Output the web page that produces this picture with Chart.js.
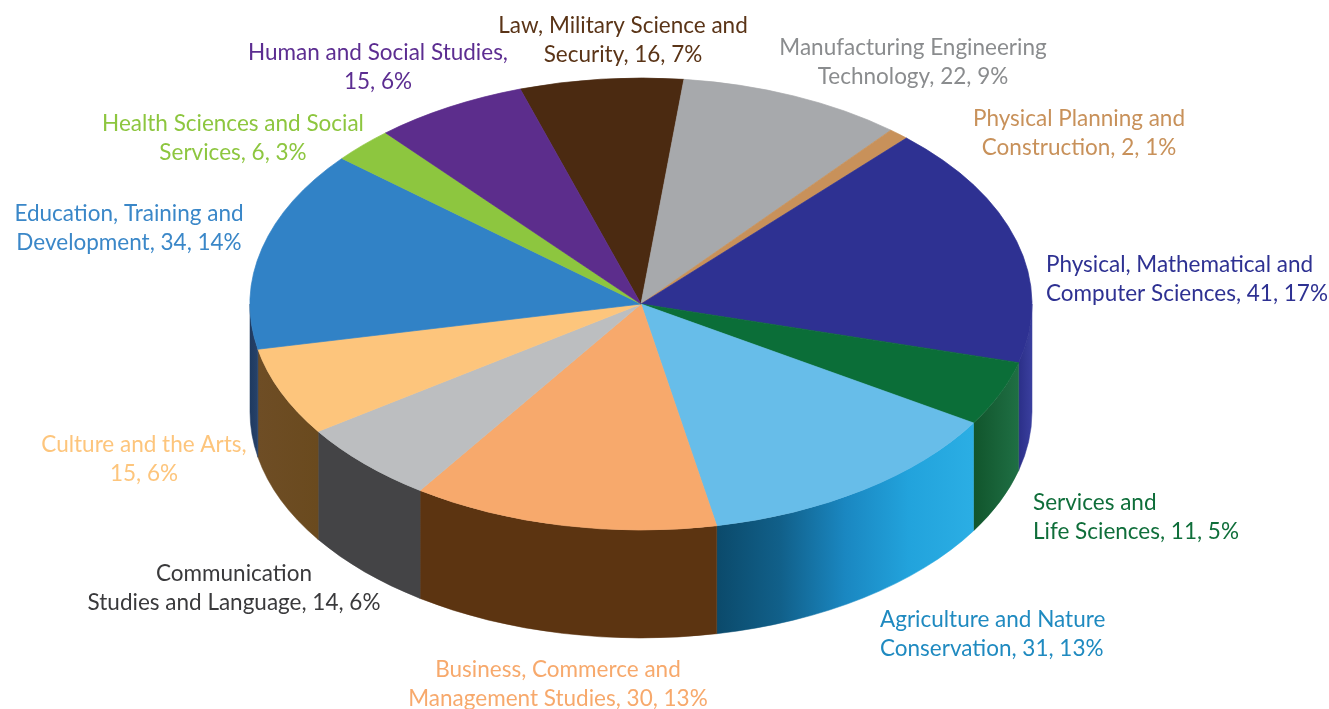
<!DOCTYPE html>
<html>
<head>
<meta charset="utf-8">
<script src="https://cdn.jsdelivr.net/npm/chart.js@4.4.1/dist/chart.umd.min.js"></script>
<style>
  html, body { margin: 0; padding: 0; background: #ffffff; }
  canvas { display: block; }
</style>
</head>
<body>
<canvas id="pie" width="1329" height="709"></canvas>
<script>
// Fields of study and number of programmes in each
const categories = [
  "Law, Military Science and Security",
  "Manufacturing Engineering Technology",
  "Physical Planning and Construction",
  "Physical, Mathematical and Computer Sciences",
  "Services and Life Sciences",
  "Agriculture and Nature Conservation",
  "Business, Commerce and Management Studies",
  "Communication Studies and Language",
  "Culture and the Arts",
  "Education, Training and Development",
  "Health Sciences and Social Services",
  "Human and Social Studies"
];
const values = [16, 22, 2, 41, 11, 31, 30, 14, 15, 34, 6, 15];

// Number of words on the first line of each label
const firstLineWords = [4, 2, 3, 3, 2, 3, 3, 1, 4, 3, 4, 4];

// Slice colours: top face, side wall (left→right stops), label text
const topColors = ["#4b2a11", "#a7a9ac", "#c8915a", "#2e3192", "#0b6e38", "#67bde9",
                   "#f7a96c", "#bcbec0", "#fdc57c", "#3182c6", "#8dc63f", "#5c2d8c"];
const wallColors = [
  ["#3a200c", "#3a200c"],
  ["#7d7f82", "#7d7f82"],
  ["#9a6c40", "#9a6c40"],
  ["#2b2f88", "#3a3f9e"],
  ["#11552c", "#1f6f44"],
  ["#0b4a6b", "#11608a", "#1a87c1", "#22a3dc", "#2baee4"],
  ["#5c3411", "#5c3411"],
  ["#444446", "#444446"],
  ["#6e4d25", "#6a4a1e"],
  ["#1f3a60", "#27426a"],
  ["#6a9a2e", "#6a9a2e"],
  ["#45206a", "#45206a"]
];
const labelColors = ["#5a3417", "#8a8c8e", "#c8915a", "#2e3192", "#0f6e3a", "#1f8ac0",
                     "#f7a96c", "#3a3a3c", "#fdc57c", "#3a87c8", "#8dc63f", "#5c2d91"];

// Label anchors: x, first baseline, alignment
const labelLayout = [
  [623, 33, "center"], [913, 55, "center"], [1079, 126, "center"], [1046, 272, "left"],
  [1033, 510, "left"], [880, 627, "left"], [558, 677, "center"], [234, 581, "center"],
  [144, 452, "center"], [129, 221, "center"], [233, 131, "center"], [378, 60, "center"]
];

// Ellipse geometry of the tilted disc
const CX = 641, CY = 304, RX = 391, RY = 226, DEPTH = 108;
const ROTATION = -18;
const LINE_GAP = 29;
const FONT = '22.5px "Lato", "Noto Sans", sans-serif';

const total = values.reduce((a, b) => a + b, 0);

function labelLines(i) {
  const pct = Math.round(values[i] / total * 100);
  const words = (categories[i] + ", " + values[i] + ", " + pct + "%").split(" ");
  const n = firstLineWords[i];
  return [words.slice(0, n).join(" "), words.slice(n).join(" ")];
}

// Squashes the pie into an ellipse and extrudes the front rim
const pie3d = {
  id: "pie3d",
  beforeDatasetsDraw(chart) {
    const ctx = chart.ctx;
    const meta = chart.getDatasetMeta(0);
    const first = meta.data[0].getProps(["x", "y", "outerRadius"], true);
    const R = first.outerRadius, x = first.x, y = first.y;
    ctx.save();
    ctx.translate(CX, CY);
    ctx.scale(RX / R, RY / R);
    ctx.translate(-x, -y);
    const d = DEPTH * R / RY;
    const TAU = Math.PI * 2;
    meta.data.forEach((el, i) => {
      const p = el.getProps(["startAngle", "endAngle"], true);
      for (let k = -2; k <= 2; k++) {
        const lo = Math.max(p.startAngle, TAU * k);
        const hi = Math.min(p.endAngle, TAU * k + Math.PI);
        if (hi <= lo) continue;
        const x0 = x + R * Math.cos(lo), x1 = x + R * Math.cos(hi);
        const g = ctx.createLinearGradient(Math.max(x0, x1), 0, Math.min(x0, x1), 0);
        // x decreases with angle on the front half, so stops run right→left reversed
        const stops = wallColors[i];
        stops.forEach((c, j) => g.addColorStop(1 - j / (stops.length - 1), c));
        ctx.beginPath();
        ctx.arc(x, y, R, lo, hi);
        ctx.lineTo(x + R * Math.cos(hi), y + d + R * Math.sin(hi));
        ctx.arc(x, y + d, R, hi, lo, true);
        ctx.closePath();
        ctx.fillStyle = g;
        ctx.fill();
        ctx.strokeStyle = g;
        ctx.lineWidth = 0.6;
        ctx.stroke();
      }
    });
  },
  afterDatasetsDraw(chart) {
    chart.ctx.restore();
  },
  afterDraw(chart) {
    const ctx = chart.ctx;
    ctx.save();
    ctx.font = FONT;
    ctx.textBaseline = "alphabetic";
    categories.forEach((_, i) => {
      const [lx, ly, align] = labelLayout[i];
      ctx.textAlign = align;
      ctx.fillStyle = labelColors[i];
      labelLines(i).forEach((t, j) => ctx.fillText(t, lx, ly + j * LINE_GAP));
    });
    ctx.restore();
  }
};

new Chart(document.getElementById("pie"), {
  type: "pie",
  data: {
    labels: categories,
    datasets: [{
      data: values,
      backgroundColor: topColors,
      borderColor: topColors,
      borderWidth: 0.8
    }]
  },
  options: {
    responsive: false,
    animation: false,
    devicePixelRatio: 1,
    rotation: ROTATION,
    events: [],
    plugins: { legend: { display: false }, tooltip: { enabled: false } }
  },
  plugins: [pie3d]
});
</script>
</body>
</html>
